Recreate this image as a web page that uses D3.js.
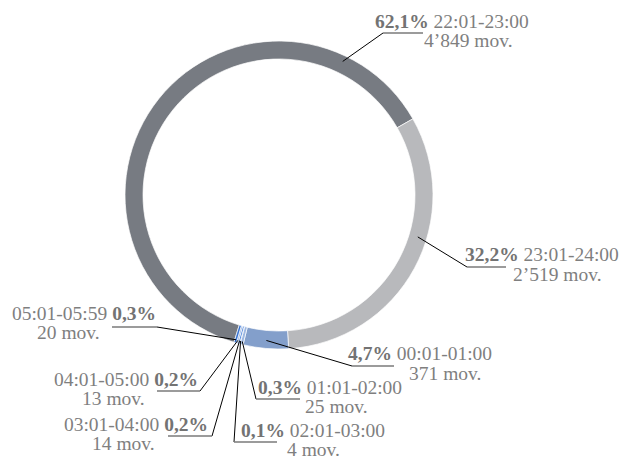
<!DOCTYPE html>
<html>
<head>
<meta charset="utf-8">
<script src="https://cdn.jsdelivr.net/npm/d3@7"></script>
<style>
  html, body { margin: 0; padding: 0; background: #fff; }
  svg { display: block; }
  text { font-family: "Liberation Serif", "Times New Roman", serif; font-size: 19.5px; fill: #7f7f7f; }
  .pct { font-weight: bold; fill: #737373; }
</style>
</head>
<body>
<svg id="chart" width="630" height="457"></svg>
<script>
// Night-time movements by hourly band
const hours = ["22:01-23:00", "23:01-24:00", "00:01-01:00", "01:01-02:00",
               "02:01-03:00", "03:01-04:00", "04:01-05:00", "05:01-05:59"];
const movements = [4849, 2519, 371, 25, 4, 14, 13, 20];
const shares = [62.1, 32.2, 4.7, 0.3, 0.1, 0.2, 0.2, 0.3];

const sliceColors = ["#777b82", "#b8b9bc", "#839fcb", "#9db7e0",
                     "#4f80cc", "#3a78d8", "#8aace0", "#3672d0"];

// Label placement: leader anchor on the ring (degrees, clockwise from 12 o'clock),
// elbow point, end of the underline, and the two text line positions.
const labelLayout = [
  { side: "right", deg: 25.5,  r: 148, elbow: [383, 33],  lineEnd: 423, x1: 375, y1: 28,  x2: 424, y2: 47 },
  { side: "right", deg: 106.8, r: 145, elbow: [467, 267], lineEnd: 506, x1: 465, y1: 261, x2: 513, y2: 281 },
  { side: "right", deg: null,  r: 146, elbow: [352, 366], lineEnd: 394, x1: 348, y1: 360, x2: 409, y2: 380 },
  { side: "right", deg: null,  r: 151, elbow: [256, 399], lineEnd: 300, x1: 258, y1: 394, x2: 305, y2: 413 },
  { side: "right", deg: null,  r: 151, elbow: [234, 442], lineEnd: 277, x1: 241, y1: 437, x2: 287, y2: 456 },
  { side: "left",  deg: null,  r: 151, elbow: [212, 436], lineEnd: 168, x1: 208, y1: 431, x2: 92,  y2: 450 },
  { side: "left",  deg: null,  r: 151, elbow: [200, 391], lineEnd: 157, x1: 198, y1: 386, x2: 82,  y2: 405 },
  { side: "left",  deg: null,  r: 151, elbow: [157, 327], lineEnd: 112, x1: 156, y1: 320, x2: 37,  y2: 339 }
];

const cx = 279, cy = 195, outerR = 154, innerR = 136;
const startDeg = 197;
const rad = d => d * Math.PI / 180;

const svg = d3.select("#chart");
const g = svg.append("g").attr("transform", `translate(${cx},${cy})`);

const data = hours.map((h, i) => ({ hour: h, mov: movements[i], share: shares[i], i }));

const pie = d3.pie()
  .value(d => d.mov)
  .sort(null)
  .startAngle(rad(startDeg))
  .endAngle(rad(startDeg) + 2 * Math.PI);

const arc = d3.arc().innerRadius(innerR).outerRadius(outerR);
const arcs = pie(data);

g.selectAll("path.slice")
  .data(arcs)
  .join("path")
  .attr("class", "slice")
  .attr("d", arc)
  .attr("fill", d => sliceColors[d.data.i])
  .attr("stroke", "#ffffff")
  .attr("stroke-width", 0.7);

const locale = d3.formatLocale({ decimal: ",", thousands: "\u2019", grouping: [3], currency: ["", ""] });
const fmtMov = locale.format(",d");
const fmtPct = locale.format(".1f");

const polar = (angle, r) => [cx + r * Math.sin(angle), cy - r * Math.cos(angle)];

arcs.forEach(a => {
  const L = labelLayout[a.data.i];
  const angle = L.deg === null ? (a.startAngle + a.endAngle) / 2 : rad(L.deg);
  const [ax, ay] = polar(angle, L.r);

  // leader line: diagonal to the ring, then the underline below the percentage
  svg.append("line")
    .attr("x1", ax).attr("y1", ay)
    .attr("x2", L.elbow[0]).attr("y2", L.elbow[1])
    .attr("stroke", "#000").attr("stroke-width", 1);
  svg.append("line")
    .attr("x1", L.elbow[0]).attr("y1", L.elbow[1])
    .attr("x2", L.lineEnd).attr("y2", L.elbow[1])
    .attr("stroke", "#7a7a7a").attr("stroke-width", 1.6);

  const pctText = fmtPct(a.data.share) + "%";
  const t1 = svg.append("text").attr("x", L.x1).attr("y", L.y1);
  if (L.side === "right") {
    t1.attr("text-anchor", "start");
    t1.append("tspan").attr("class", "pct").text(pctText);
    t1.append("tspan").text(" " + a.data.hour);
  } else {
    t1.attr("text-anchor", "end");
    t1.append("tspan").text(a.data.hour + " ");
    t1.append("tspan").attr("class", "pct").text(pctText);
  }
  svg.append("text")
    .attr("x", L.x2).attr("y", L.y2)
    .attr("text-anchor", "start")
    .text(fmtMov(a.data.mov) + " mov.");
});
</script>
</body>
</html>
